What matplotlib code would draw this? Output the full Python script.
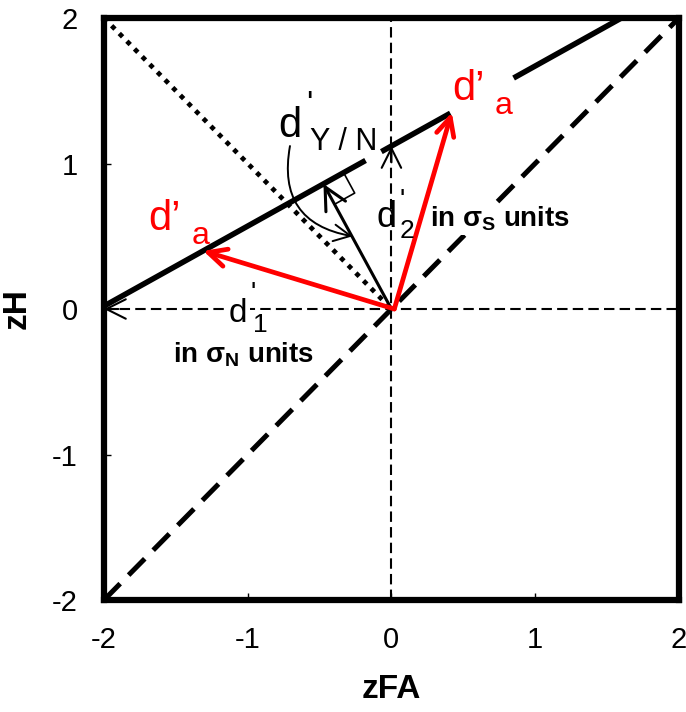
import numpy as np
import matplotlib.pyplot as plt

plt.rcParams['font.family'] = ['Liberation Sans', 'DejaVu Sans']
plt.rcParams['mathtext.fontset'] = 'custom'
plt.rcParams['mathtext.rm'] = 'Liberation Sans'
plt.rcParams['mathtext.it'] = 'Liberation Sans:italic'
plt.rcParams['mathtext.bf'] = 'Liberation Sans:bold'

# axis range / ticks
ticks = [-2, -1, 0, 1, 2]
tick_labels = ['-2', '-1', '0', '1', '2']

# d' along each axis (sigma_N and sigma_S units) and ROC slope
d1 = 2.0
d2 = 1.12
slope = 0.55

# ROC line pieces (zFA ranges), broken where labels sit
roc_pieces = [(-2.0, -0.18), (-0.07, 0.41), (0.85, 2.0)]

# zFA of the tips of the two d'a vectors (both end on the ROC line)
da_tips_x = [-1.31, 0.42]

# chance diagonal and the negative diagonal
diag_x = [-2, 2]
neg_diag_x = [-2, 0]

RED = '#ff0000'

fig = plt.figure(figsize=(6.86, 7.12), dpi=100)
ax = fig.add_axes([0.1516, 0.1573, 0.838, 0.8174])
ax.set_xlim(-2, 2)
ax.set_ylim(-2, 2)

# reference lines through the origin
ax.axvline(0, color='k', lw=1.5, ls=(0, (5, 2.5)), zorder=1)
ax.axhline(0, color='k', lw=1.5, ls=(0, (5, 2.5)), zorder=1)

# chance line and negative diagonal
ax.plot(diag_x, diag_x, color='k', lw=3.6, ls=(0, (4.6, 2.4)), dash_capstyle='butt', zorder=2)
ax.plot(neg_diag_x, [-v for v in neg_diag_x], color='k', lw=3.4, ls=(0, (1, 1.3)),
        dash_capstyle='butt', zorder=2)

# ROC line zH = d2 + slope*zFA
for a, b in roc_pieces:
    xs = np.array([a, b])
    ax.plot(xs, d2 + slope * xs, color='k', lw=4, solid_capstyle='butt', zorder=3)

# arrow heads for d'1 and d'2 (bodies are the dashed axes)
head = dict(arrowstyle='->,head_length=0.7,head_width=0.35', color='k', lw=1.5,
            shrinkA=0, shrinkB=0, mutation_scale=20)
ax.annotate('', xy=(-d1, 0), xytext=(-d1 * 0.95, 0), arrowprops=head, zorder=4)
ax.annotate('', xy=(0, d2), xytext=(0, d2 * 0.9), arrowprops=head, zorder=4)

# perpendicular from origin to the ROC line (d'Y/N)
nrm = np.hypot(slope, 1)
foot = d2 * np.array([-slope, 1]) / nrm**2
ax.annotate('', xy=foot, xytext=(0, 0),
            arrowprops=dict(arrowstyle='->,head_length=0.8,head_width=0.4', color='k', lw=2.2,
                            shrinkA=0, shrinkB=0, mutation_scale=20), zorder=4)

# right-angle marker
u = np.array([1, slope]) / nrm
n = np.array([-slope, 1]) / nrm
s = 0.16
sq = np.array([foot, foot + s * u, foot + s * u - s * n, foot - s * n])
ax.plot(sq[1:, 0], sq[1:, 1], color='k', lw=1.2, zorder=4)

# curved pointer from the d'Y/N label
ax.annotate('', xy=(-0.27, 0.5), xytext=(-0.706, 1.12),
            arrowprops=dict(arrowstyle='->,head_length=0.6,head_width=0.3', color='k', lw=1.4,
                            shrinkA=0, shrinkB=0, mutation_scale=20,
                            connectionstyle='arc3,rad=0.5'), zorder=4)

# d'a vectors
for tx in da_tips_x:
    ax.annotate('', xy=(tx, d2 + slope * tx), xytext=(0.02, 0),
                arrowprops=dict(arrowstyle='->,head_length=0.65,head_width=0.32', color=RED, lw=3.4,
                                shrinkA=0, shrinkB=0, mutation_scale=20), zorder=5)

# labels
t_kw = dict(ha='left', va='baseline', zorder=6)
ax.text(-0.79, 1.182, 'd', fontsize=30, **t_kw)
ax.text(-0.572, 1.505, "'", fontsize=24, ha='center', va='top', zorder=6)
ax.text(-0.567, 1.093, 'Y / N', fontsize=22, **t_kw)

wb = dict(facecolor='white', edgecolor='none', pad=2)
ax.text(-1.13, -0.089, 'd', fontsize=24, bbox=wb, **t_kw)
ax.text(-0.96, 0.19, "'", fontsize=20, ha='center', va='top', zorder=6)
ax.text(-0.965, -0.16, '1', fontsize=19, bbox=wb, **t_kw)

ax.text(-0.105, 0.564, 'd', fontsize=26, **t_kw)
ax.text(0.075, 0.835, "'", fontsize=20, ha='center', va='top', zorder=6)
ax.text(0.06, 0.49, '2', fontsize=19, **t_kw)

ax.text(0.268, 0.564, r'$\mathbf{in\ \sigma_{S}\ units}$', fontsize=20, ha='left', va='baseline',
        bbox=dict(facecolor='white', edgecolor='none', pad=1), zorder=4.5)
ax.text(-1.52, -0.371, r'$\mathbf{in\ \sigma_{N}\ units}$', fontsize=20, **t_kw)

ax.text(-1.69, 0.543, 'd’', fontsize=30, color=RED, **t_kw)
ax.text(-1.39, 0.45, 'a', fontsize=23, color=RED, **t_kw)
ax.text(0.42, 1.436, 'd’', fontsize=30, color=RED, **t_kw)
ax.text(0.715, 1.343, 'a', fontsize=23, color=RED, **t_kw)

# frame and ticks
for sp in ax.spines.values():
    sp.set_linewidth(4.5)
ax.set_xticks(ticks)
ax.set_xticklabels(tick_labels)
ax.set_yticks(ticks)
ax.set_yticklabels(tick_labels)
ax.tick_params(direction='in', length=5, width=1, labelsize=21, pad=19)
ax.set_xlabel('zFA', fontsize=24, fontweight='bold', labelpad=14)
ax.set_ylabel('zH', fontsize=24, fontweight='bold', labelpad=14)

fig.savefig('out.png', dpi=100)
